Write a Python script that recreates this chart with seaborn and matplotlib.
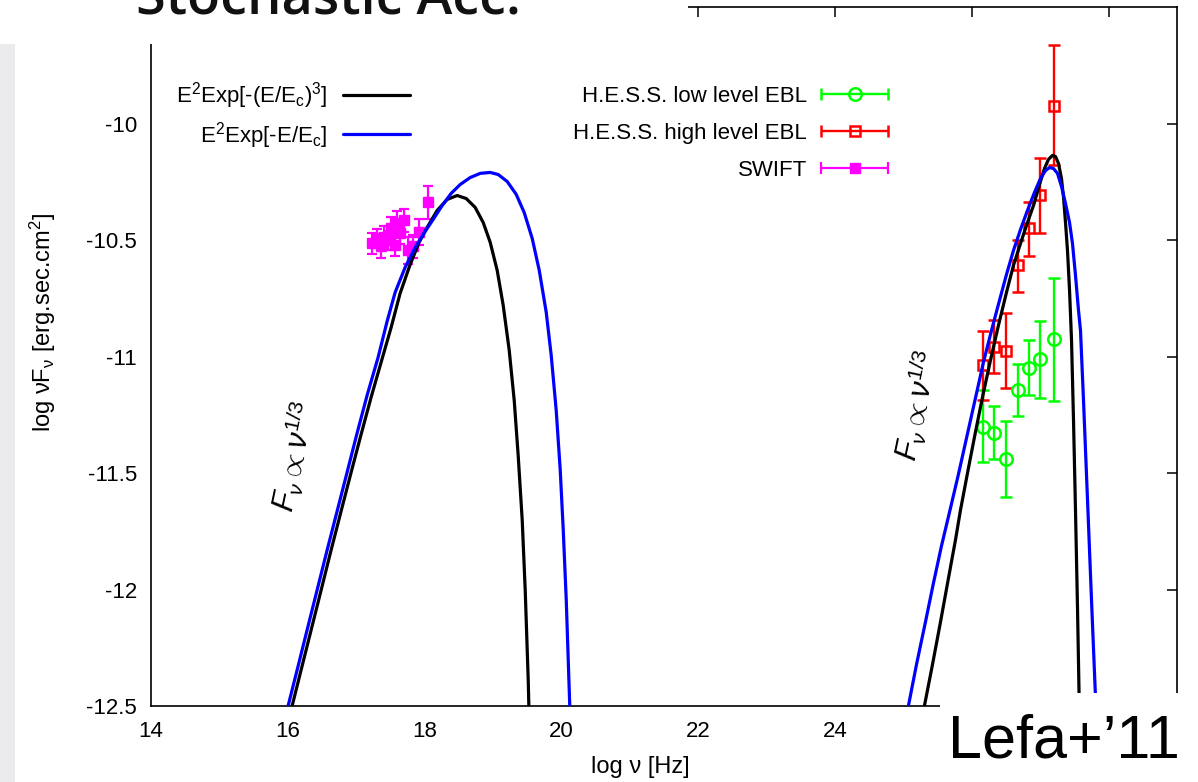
import numpy as np
import pandas as pd
import matplotlib
matplotlib.use("Agg")
import matplotlib.pyplot as plt
import seaborn as sns
from matplotlib.patches import Rectangle
from matplotlib.lines import Line2D
from matplotlib.container import ErrorbarContainer
from matplotlib.legend_handler import HandlerErrorbar

# ---------------- data (log nu [Hz], log nuFnu) ----------------
sync_cubic_nu = [16.063, 16.194, 16.341, 16.487, 16.633, 16.779, 16.926, 17.072, 17.218, 17.364,
                 17.511, 17.642, 17.789, 17.920, 18.037, 18.184, 18.330, 18.476, 18.608, 18.739,
                 18.857, 18.959, 19.061, 19.149, 19.237, 19.310, 19.368, 19.427, 19.471, 19.515, 19.529]
sync_cubic_y = [-12.500, -12.346, -12.174, -12.003, -11.831, -11.664, -11.497, -11.334, -11.175, -11.025,
                -10.875, -10.729, -10.605, -10.510, -10.446, -10.373, -10.326, -10.309, -10.322, -10.360,
                -10.425, -10.510, -10.630, -10.780, -10.973, -11.188, -11.424, -11.702, -12.003, -12.389, -12.560]

sync_exp_nu = [16.004, 16.136, 16.282, 16.428, 16.575, 16.721, 16.867, 17.013, 17.160, 17.321,
               17.452, 17.569, 17.716, 17.862, 18.008, 18.125, 18.257, 18.388, 18.520, 18.666,
               18.813, 18.959, 19.076, 19.208, 19.339, 19.456, 19.573, 19.676, 19.778, 19.851,
               19.924, 19.983, 20.027, 20.071, 20.100, 20.129]
sync_exp_y = [-12.500, -12.346, -12.174, -12.003, -11.831, -11.664, -11.497, -11.329, -11.166, -11.003,
              -10.849, -10.725, -10.617, -10.532, -10.463, -10.412, -10.352, -10.300, -10.262, -10.232,
              -10.214, -10.210, -10.219, -10.249, -10.304, -10.382, -10.493, -10.630, -10.810, -10.995,
              -11.231, -11.488, -11.745, -12.045, -12.303, -12.560]

ic_cubic_nu = [25.307, 25.424, 25.542, 25.659, 25.761, 25.834, 25.951, 26.053, 26.156, 26.273,
               26.390, 26.507, 26.609, 26.712, 26.814, 26.902, 26.990, 27.063, 27.121, 27.180,
               27.224, 27.268, 27.311, 27.341, 27.370, 27.399, 27.429, 27.458, 27.487, 27.516,
               27.546, 27.575]
ic_cubic_y = [-12.500, -12.324, -12.140, -11.951, -11.788, -11.660, -11.479, -11.325, -11.175, -11.016,
              -10.866, -10.725, -10.609, -10.515, -10.425, -10.352, -10.262, -10.193, -10.154, -10.137,
              -10.142, -10.172, -10.236, -10.317, -10.425, -10.545, -10.716, -10.931, -11.274, -11.660,
              -12.088, -12.560]

ic_exp_nu = [25.073, 25.190, 25.322, 25.439, 25.556, 25.688, 25.805, 25.922, 26.053, 26.170,
             26.288, 26.405, 26.507, 26.609, 26.712, 26.814, 26.916, 27.004, 27.077, 27.136,
             27.194, 27.253, 27.311, 27.370, 27.429, 27.472, 27.516, 27.560, 27.589, 27.633,
             27.692, 27.750, 27.809, 27.823]
ic_exp_y = [-12.500, -12.324, -12.140, -11.973, -11.814, -11.651, -11.505, -11.351, -11.179, -11.025,
            -10.888, -10.759, -10.648, -10.545, -10.455, -10.373, -10.296, -10.236, -10.202, -10.189,
            -10.193, -10.214, -10.270, -10.343, -10.425, -10.515, -10.652, -10.802, -10.888, -11.188,
            -11.617, -12.045, -12.466, -12.560]

hess_nu = [26.17, 26.33, 26.50, 26.67, 26.83, 27.00, 27.20]
hess_low = [-11.304, -11.329, -11.441, -11.145, -11.051, -11.012, -10.926]
hess_low_top = [-11.145, -11.214, -11.278, -11.033, -10.931, -10.849, -10.665]
hess_low_bot = [-11.454, -11.441, -11.604, -11.256, -11.166, -11.179, -11.192]
hess_high = [-11.038, -10.961, -10.978, -10.609, -10.450, -10.309, -9.923]
hess_high_top = [-10.892, -10.845, -10.815, -10.502, -10.339, -10.146, -9.661]
hess_high_bot = [-11.188, -11.072, -11.136, -10.725, -10.570, -10.472, -10.180]

swift_nu = [17.23, 17.31, 17.36, 17.41, 17.47, 17.51, 17.56, 17.60, 17.64, 17.70, 17.76, 17.83, 17.92, 18.05]
swift_y = [-10.515, -10.493, -10.527, -10.485, -10.502, -10.450, -10.523, -10.425, -10.472, -10.416,
           -10.545, -10.527, -10.467, -10.339]
swift_err = [0.045, 0.040, 0.050, 0.045, 0.040, 0.050, 0.045, 0.050, 0.045, 0.050, 0.060, 0.050, 0.055, 0.070]

x_ticks = [14, 16, 18, 20, 22, 24, 26, 28]
x_ticklabels = ['14', '16', '18', '20', '22', '24', '', '']   # 26, 28 hidden under the slide note
y_ticks = [-12.5, -12, -11.5, -11, -10.5, -10]
x_lim = (14, 29)
y_lim = (-12.5, -9.5)

label_cubic = r"E$^\mathregular{2}$Exp[-(E/E$_\mathregular{c}$)$^\mathregular{3}$]"
label_exp = r"E$^\mathregular{2}$Exp[-E/E$_\mathregular{c}$]"
label_low = "H.E.S.S. low level EBL"
label_high = "H.E.S.S. high level EBL"
label_swift = "SWIFT"

# ---------------- style ----------------
sns.set_theme(style="white")
plt.rcParams['font.family'] = ['Liberation Sans', 'DejaVu Sans']
plt.rcParams['mathtext.fontset'] = 'custom'
plt.rcParams['mathtext.rm'] = 'Liberation Sans'
plt.rcParams['mathtext.it'] = 'Liberation Sans:italic'
plt.rcParams['mathtext.bf'] = 'Liberation Sans:bold'
for k in ['text.color', 'axes.labelcolor', 'xtick.color', 'ytick.color', 'axes.edgecolor']:
    plt.rcParams[k] = 'black'

BLACK, BLUE, GREEN, RED, MAG = '#000000', '#0000ff', '#00ff00', '#ff0000', '#ff00ff'

W, H = 1198, 782
fig = plt.figure(figsize=(W / 100, H / 100), dpi=100)
fig.patch.set_facecolor('white')
ax = fig.add_axes([151 / W, 1 - 706 / H, (1177 - 151) / W, (706 - 7) / H])
ax.set_facecolor('white')

# data points
ax.errorbar(hess_nu, hess_low,
            yerr=[np.array(hess_low) - np.array(hess_low_bot), np.array(hess_low_top) - np.array(hess_low)],
            fmt='o', ms=9, mfc='none', mec=GREEN, mew=1.8, ecolor=GREEN, elinewidth=1.7,
            capsize=4.5, capthick=1.7, zorder=3)
ax.errorbar(hess_nu, hess_high,
            yerr=[np.array(hess_high) - np.array(hess_high_bot), np.array(hess_high_top) - np.array(hess_high)],
            fmt='s', ms=7.5, mfc='none', mec=RED, mew=1.8, ecolor=RED, elinewidth=1.7,
            capsize=4.5, capthick=1.7, zorder=3)
ax.errorbar(swift_nu, swift_y, yerr=swift_err, fmt='s', ms=7, mfc=MAG, mec=MAG,
            ecolor=MAG, elinewidth=1.6, capsize=3.6, capthick=1.6, zorder=3)

# model curves
for xs, ys, c in [(sync_cubic_nu, sync_cubic_y, BLACK), (ic_cubic_nu, ic_cubic_y, BLACK),
                  (sync_exp_nu, sync_exp_y, BLUE), (ic_exp_nu, ic_exp_y, BLUE)]:
    sns.lineplot(x=xs, y=ys, color=c, lw=2.3, ax=ax, sort=False, estimator=None,
                 legend=False, zorder=4)

ax.set_xlim(*x_lim)
ax.set_ylim(*y_lim)
ax.set_xticks(x_ticks)
ax.set_yticks(y_ticks)
ax.set_xticklabels(x_ticklabels)
ax.set_yticklabels([f"{t:g}" for t in y_ticks])
ax.tick_params(direction='in', top=True, right=True, length=7.5, width=1.1,
               labelsize=16, pad=10, colors='black')
ax.tick_params(axis='x', pad=11)
for s in ax.spines.values():
    s.set_color('black')
    s.set_linewidth(1.2)
    s.set_visible(True)
ax.grid(False)

ax.set_xlabel("log ν [Hz]", fontsize=17, color='black')
ax.xaxis.set_label_coords((640 - 151) / 1026, (706 - 756) / 699)
ax.set_ylabel(r"log νF$_\mathregular{ν}$ [erg.sec.cm$^\mathregular{2}$]", fontsize=17,
              color='black', va='center')
ax.yaxis.set_label_coords((43 - 151) / 1026, (706 - 322) / 699)

ann = r"$F_{\nu} \propto \nu^{1/3}$"
ax.text(16.10, -11.43, ann, rotation=78, fontsize=22, ha='center', va='center',
        rotation_mode='anchor', color='black', zorder=5)
ax.text(25.20, -11.21, ann, rotation=78, fontsize=22, ha='center', va='center',
        rotation_mode='anchor', color='black', zorder=5)

# legends
h_cubic = Line2D([], [], color=BLACK, lw=2.3)
h_exp = Line2D([], [], color=BLUE, lw=2.3)
fig.legend(handles=[h_cubic, h_exp], labels=[label_cubic, label_exp],
           loc='upper right', bbox_to_anchor=(410 / W, 1 - 80 / H), frameon=False,
           markerfirst=False, handlelength=3.0, handletextpad=0.7, borderpad=0,
           borderaxespad=0, labelspacing=0.4, fontsize=16)

p_low = ax.errorbar([np.nan], [np.nan], xerr=[1], fmt='o', ms=9, mfc='none', mec=GREEN, mew=1.8,
                    ecolor=GREEN, elinewidth=1.7, capsize=4.5, capthick=1.7)
p_high = ax.errorbar([np.nan], [np.nan], xerr=[1], fmt='s', ms=7.5, mfc='none', mec=RED, mew=1.8,
                     ecolor=RED, elinewidth=1.7, capsize=4.5, capthick=1.7)
p_swift = ax.errorbar([np.nan], [np.nan], xerr=[1], fmt='s', ms=7, mfc=MAG, mec=MAG,
                      ecolor=MAG, elinewidth=1.6, capsize=4.5, capthick=1.6)
fig.legend(handles=[p_low, p_high, p_swift], labels=[label_low, label_high, label_swift],
           loc='upper right', bbox_to_anchor=(888 / W, 1 - 86 / H), frameon=False,
           markerfirst=False, handlelength=3.0, handletextpad=0.65, borderpad=0,
           borderaxespad=0, labelspacing=0.72, fontsize=16,
           handler_map={ErrorbarContainer: HandlerErrorbar(xerr_size=1.5, yerr_size=0.0)})

# slide overlays
fig.patches.append(Rectangle((0, 0), 15 / W, (H - 44) / H, transform=fig.transFigure,
                             facecolor='#ebebee', edgecolor='none', zorder=10))
fig.patches.append(Rectangle((0, 1 - 44 / H), 688 / W, 44 / H, transform=fig.transFigure,
                             facecolor='white', edgecolor='none', zorder=10))
fig.patches.append(Rectangle((940 / W, 0), (W - 940) / W, (H - 693) / H, transform=fig.transFigure,
                             facecolor='white', edgecolor='none', zorder=10))
fig.text(136 / W, 1 - 13 / H, "Stochastic Acc.", fontsize=39, fontweight='semibold',
         family=['Open Sans', 'DejaVu Sans'], color='#111111', va='baseline', ha='left', zorder=12)
fig.text(948 / W, 1 - 757 / H, "Lefa+’11", fontsize=44,
         family=['Liberation Sans', 'DejaVu Sans'], color='black',
         va='baseline', ha='left', zorder=12)

fig.savefig("out.png", dpi=100, facecolor='white')
